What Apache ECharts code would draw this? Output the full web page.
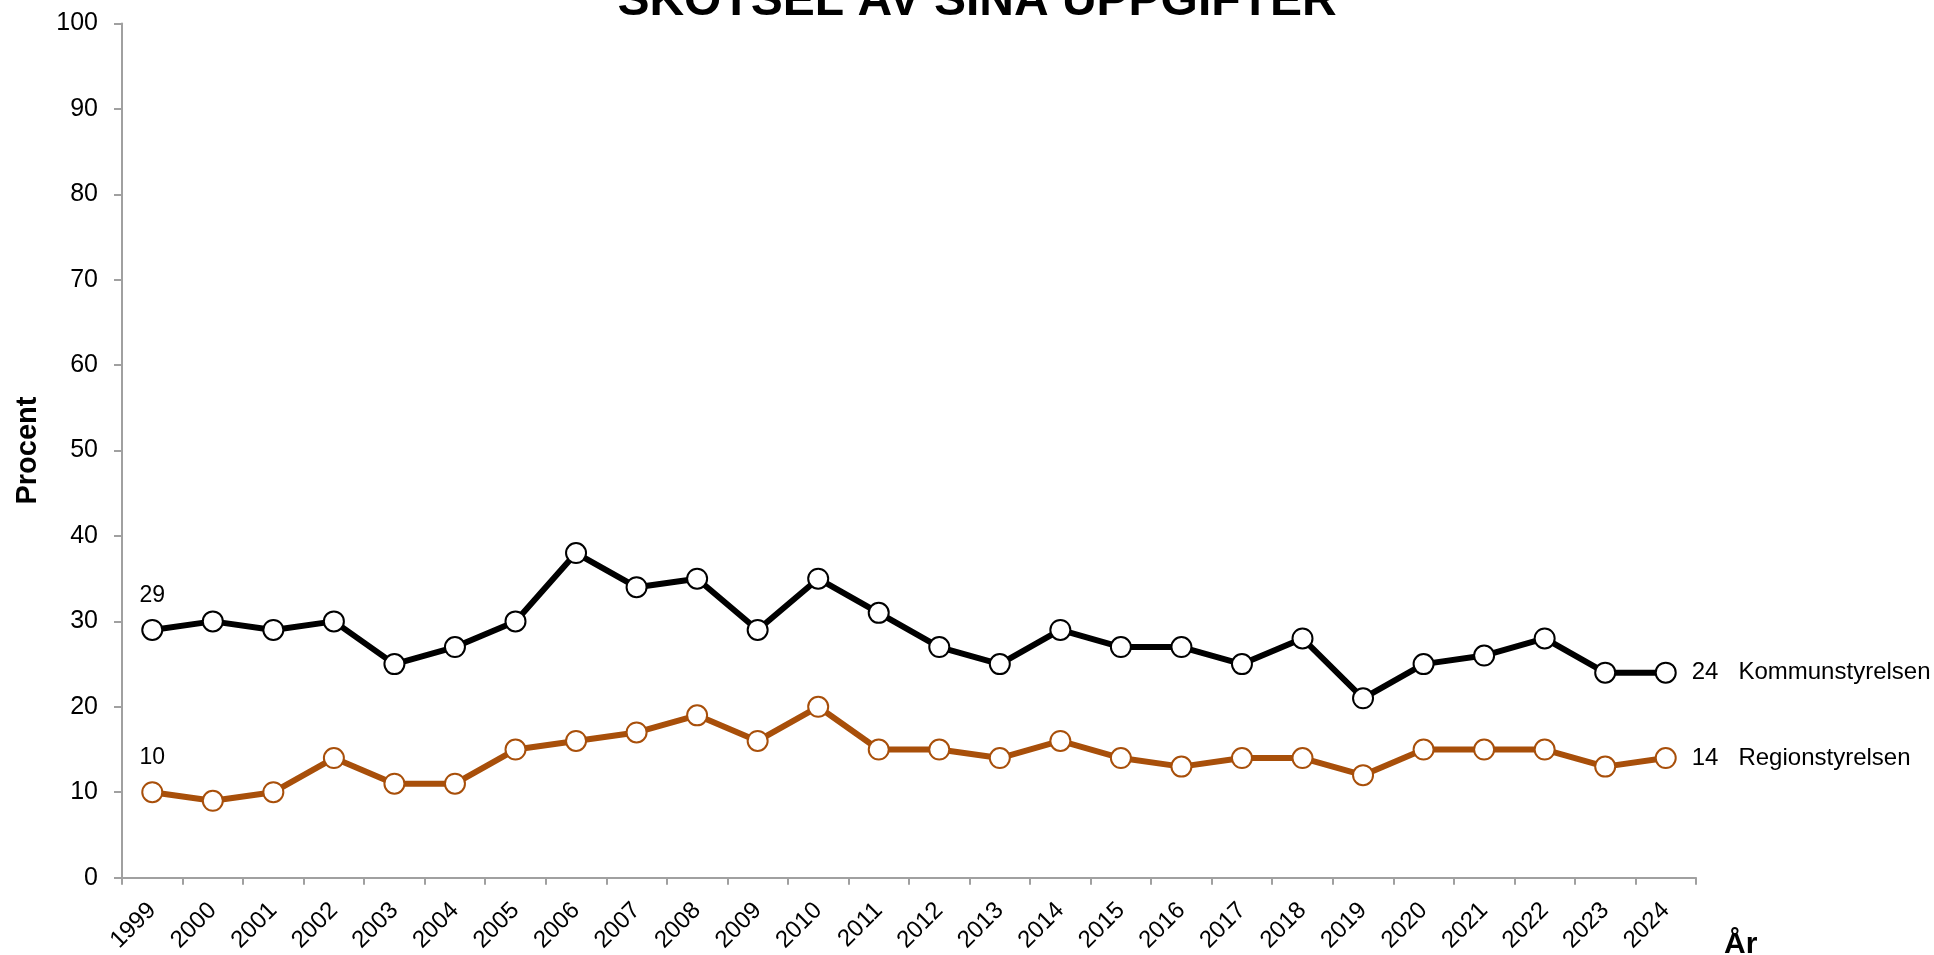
<!DOCTYPE html>
<html>
<head>
<meta charset="utf-8">
<script src="https://cdn.jsdelivr.net/npm/echarts@6/dist/echarts.min.js"></script>
<style>
html,body{margin:0;padding:0;background:#fff;}
#chart{width:1934px;height:955px;}
</style>
</head>
<body>
<div id="chart"></div>
<script>
var years = ['1999','2000','2001','2002','2003','2004','2005','2006','2007','2008','2009','2010','2011','2012','2013','2014','2015','2016','2017','2018','2019','2020','2021','2022','2023','2024'];
var kommunstyrelsen = [29,30,29,30,25,27,30,38,34,35,29,35,31,27,25,29,27,27,25,28,21,25,26,28,24,24];
var regionstyrelsen = [10,9,10,14,11,11,15,16,17,19,16,20,15,15,14,16,14,13,14,14,12,15,15,15,13,14];
var yTicks = [0,10,20,30,40,50,60,70,80,90,100];
var seriesNames = ['Kommunstyrelsen','Regionstyrelsen'];
var titleText = 'SKÖTSEL AV SINA UPPGIFTER';

var FONT = '"Liberation Sans", Arial, sans-serif';

function buildData(values, name) {
  var last = values.length - 1;
  return values.map(function (v, i) {
    if (i === 0) {
      return { value: v, label: { show: true, position: 'top', distance: 12, formatter: String(v), color: '#000', fontSize: 23, fontFamily: FONT } };
    }
    if (i === last) {
      return { value: v, label: { show: true, position: 'right', distance: 15, formatter: v + '   ' + name, color: '#000', fontSize: 24, fontFamily: FONT } };
    }
    return v;
  });
}

var chart = echarts.init(document.getElementById('chart'));
chart.setOption({
  backgroundColor: '#fff',
  animation: false,
  grid: { left: 122, right: 238, top: 23.5, bottom: 75, containLabel: false },
  graphic: [
    { type: 'text', x: 977, y: -22, style: { text: titleText, fill: '#000', font: 'bold 48px ' + FONT, textAlign: 'center' } },
    { type: 'text', left: 1724, top: 930, style: { text: 'År', fill: '#000', font: 'bold 30px ' + FONT } }
  ],
  xAxis: {
    type: 'category',
    data: years,
    boundaryGap: true,
    axisLine: { show: true, lineStyle: { color: '#a0a0a0', width: 2 } },
    axisTick: { show: true, length: 7, alignWithLabel: false, lineStyle: { color: '#a0a0a0', width: 2 } },
    axisLabel: { rotate: 45, interval: 0, margin: 29, color: '#000', fontSize: 24, fontFamily: FONT },
    splitLine: { show: false }
  },
  yAxis: {
    type: 'value',
    min: yTicks[0],
    max: yTicks[yTicks.length - 1],
    interval: 10,
    name: 'Procent',
    nameLocation: 'middle',
    nameRotate: 90,
    nameGap: 80,
    nameTextStyle: { color: '#000', fontSize: 29, fontWeight: 'bold', fontFamily: FONT },
    axisLine: { show: true, lineStyle: { color: '#a0a0a0', width: 2 } },
    axisTick: { show: true, length: 8, lineStyle: { color: '#a0a0a0', width: 2 } },
    axisLabel: { margin: 24, color: '#000', fontSize: 25, fontFamily: FONT },
    splitLine: { show: false }
  },
  series: [
    {
      name: seriesNames[0],
      type: 'line',
      data: buildData(kommunstyrelsen, seriesNames[0]),
      symbol: 'circle',
      symbolSize: 20,
      lineStyle: { color: '#000', width: 6 },
      itemStyle: { color: '#fff', borderColor: '#000', borderWidth: 2 },
      z: 3
    },
    {
      name: seriesNames[1],
      type: 'line',
      data: buildData(regionstyrelsen, seriesNames[1]),
      symbol: 'circle',
      symbolSize: 20,
      lineStyle: { color: '#a84f0a', width: 6 },
      itemStyle: { color: '#fff', borderColor: '#a84f0a', borderWidth: 2 },
      z: 2
    }
  ]
});
</script>
</body>
</html>
